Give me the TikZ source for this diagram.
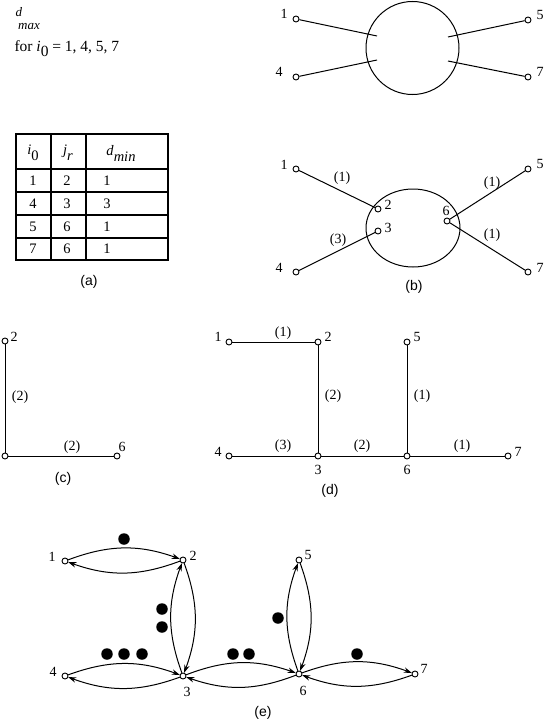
\documentclass[tikz,border=0pt]{standalone}
\usepackage{fontspec}
\setmainfont{Liberation Serif}
\newfontfamily\capfont{Liberation Sans}
\usetikzlibrary{arrows.meta}
\begin{document}
\begin{tikzpicture}[x=1pt,y=-1pt,
  line width=1pt,
  vtx/.style={circle,draw,fill=white,inner sep=0pt,minimum size=6pt,line width=0.9pt},
  lbl/.style={font=\fontsize{14}{16}\selectfont,inner sep=0pt},
  tlbl/.style={font=\fontsize{14.5}{16}\selectfont,inner sep=0pt},
  capstyle/.style={font=\capfont\fontsize{14}{16}\selectfont,inner sep=0pt},
  dot/.style={circle,fill=black,inner sep=0pt,minimum size=11.5pt},
  arc/.style={-{Stealth[length=8pt,width=5.5pt]},bend left=20,line width=1pt}]
\useasboundingbox (0,0) rectangle (546,728);
% ---------- (a) ----------
\node[inner sep=0pt,font=\fontsize{13}{14}\selectfont\itshape] (dd) at (19,12) {d};
\node[inner sep=0pt,font=\fontsize{13}{14}\selectfont\itshape] (dmax) at (29,27) {max};
\node[inner sep=0pt,font=\fontsize{15.5}{17}\selectfont,anchor=base west] (fori) at (14,51) {for \textit{i}\raisebox{-5pt}{0} = 1, 4, 5, 7};
\draw[line width=1.1pt] (16,134) rectangle (168,260);
\draw[line width=1.1pt] (51,134) -- (51,260) (86,134) -- (86,260);
\draw[line width=1.1pt] (16,169) -- (168,169) (16,192) -- (168,192) (16,215) -- (168,215) (16,238) -- (168,238);
\node[tlbl] (h1) at (33,153) {\textit{i}\raisebox{-6pt}{0}};
\node[tlbl] (h2) at (68,153) {\textit{j}\raisebox{-6pt}{\textit{r}}};
\node[tlbl] (h3) at (121,153) {\textit{d}\raisebox{-6pt}{\textit{min}}};
\node[tlbl] at (33,181) {1}; \node[tlbl] at (67,181) {2}; \node[tlbl] at (107,181) {1};
\node[tlbl] at (33,204) {4}; \node[tlbl] at (67,204) {3}; \node[tlbl] at (107,204) {3};
\node[tlbl] at (33,227) {5}; \node[tlbl] at (67,227) {6}; \node[tlbl] at (107,227) {1};
\node[tlbl] at (33,249) {7}; \node[tlbl] at (67,249) {6}; \node[tlbl] at (107,249) {1};
\node[capstyle] (capa) at (89,282) {(a)};
% ---------- (b) top ----------
\draw (412.5,48) circle (46.5);
\node[vtx] (t1) at (296,19) {}; \node[vtx] (t4) at (296,77) {};
\node[vtx] (t5) at (528,20) {}; \node[vtx] (t7) at (528,77) {};
\coordinate (e1) at (377,36); \coordinate (e4) at (377,60);
\coordinate (e5) at (448,37); \coordinate (e7) at (448,61);
\draw (t1) -- (e1); \draw (t4) -- (e4); \draw (t5) -- (e5); \draw (t7) -- (e7);
\node[lbl] at (284,14) {1}; \node[lbl] at (279,72) {4};
\node[lbl] at (540,15) {5}; \node[lbl] at (540,72) {7};
% ---------- (b) bottom ----------
\draw (413,228) ellipse (47 and 39);
\node[vtx] (b1) at (296,169) {}; \node[vtx] (b4) at (296,272) {};
\node[vtx] (b5) at (528,169) {}; \node[vtx] (b7) at (528,272) {};
\node[vtx] (b2) at (378,209) {}; \node[vtx] (b3) at (378,231) {};
\node[vtx] (b6) at (447,221) {};
\draw (b1) -- (b2); \draw (b4) -- (b3); \draw (b6) -- (b5); \draw (b6) -- (b7);
\node[lbl] at (284,165) {1}; \node[lbl] at (279,268) {4};
\node[lbl] at (540,164) {5}; \node[lbl] at (540,268) {7};
\node[lbl] at (388,205) {2}; \node[lbl] at (388,228) {3}; \node[lbl] at (446,211) {6};
\node[lbl] at (342,178) {(1)}; \node[lbl] at (338,240) {(3)};
\node[lbl] at (492,183) {(1)}; \node[lbl] at (492,235) {(1)};
\node[capstyle] (capb) at (414,287) {(b)};
% ---------- (c) ----------
\node[vtx] (c2) at (5,341) {}; \node[vtx] (cc) at (5,456) {}; \node[vtx] (c6) at (117,456) {};
\draw (c2) -- (cc); \draw (cc) -- (c6);
\node[lbl] at (14,337) {2}; \node[lbl] at (122,447) {6};
\node[lbl] at (20,397) {(2)}; \node[lbl] at (72,447) {(2)};
\node[capstyle] (capc) at (63,479) {(c)};
% ---------- (d) ----------
\node[vtx] (d1) at (229,342) {}; \node[vtx] (d2) at (318,342) {}; \node[vtx] (d5) at (407,342) {};
\node[vtx] (d4) at (229,456) {}; \node[vtx] (d3) at (318,456) {}; \node[vtx] (d6) at (407,456) {};
\node[vtx] (d7) at (508,456) {};
\draw (d1) -- (d2); \draw (d2) -- (d3); \draw (d5) -- (d6);
\draw (d4) -- (d3); \draw (d3) -- (d6); \draw (d6) -- (d7);
\node[lbl] at (218,337) {1}; \node[lbl] at (328,337) {2}; \node[lbl] at (417,337) {5};
\node[lbl] at (218,452) {4}; \node[lbl] at (518,452) {7};
\node[lbl] at (318,470) {3}; \node[lbl] at (407,470) {6};
\node[lbl] at (283,333) {(1)}; \node[lbl] at (333,396) {(2)}; \node[lbl] at (422,396) {(1)};
\node[lbl] at (283,446) {(3)}; \node[lbl] at (362,446) {(2)}; \node[lbl] at (462,446) {(1)};
\node[capstyle] (capd) at (330,491) {(d)};
% ---------- (e) ----------
\node[vtx] (f1) at (65,561) {}; \node[vtx] (f2) at (183,560) {};
\node[vtx] (f4) at (65,676) {}; \node[vtx] (f3) at (183,676) {};
\node[vtx] (f5) at (299,560) {}; \node[vtx] (f6) at (299,674) {};
\node[vtx] (f7) at (415,674) {};
\draw[arc] (f1) to (f2); \draw[arc] (f2) to (f1);
\draw[arc] (f3) to (f2); \draw[arc] (f2) to (f3);
\draw[arc] (f4) to (f3); \draw[arc] (f3) to (f4);
\draw[arc] (f3) to (f6); \draw[arc] (f6) to (f3);
\draw[arc] (f6) to (f5); \draw[arc] (f5) to (f6);
\draw[arc] (f6) to (f7); \draw[arc] (f7) to (f6);
\node[lbl] at (52,557) {1}; \node[lbl] at (193,556) {2};
\node[lbl] at (53,672) {4}; \node[lbl] at (187,692) {3};
\node[lbl] at (308,555) {5}; \node[lbl] at (303,691) {6};
\node[lbl] at (424,669) {7};
\node[dot] at (124,539) {};
\node[dot] at (162,609) {}; \node[dot] at (162,627) {};
\node[dot] at (107,654) {}; \node[dot] at (124,654) {}; \node[dot] at (142,654) {};
\node[dot] at (233,654) {}; \node[dot] at (249,654) {};
\node[dot] at (278,618) {};
\node[dot] at (357,654) {};
\node[capstyle] (cape) at (263,713) {(e)};
\end{tikzpicture}
\end{document}
